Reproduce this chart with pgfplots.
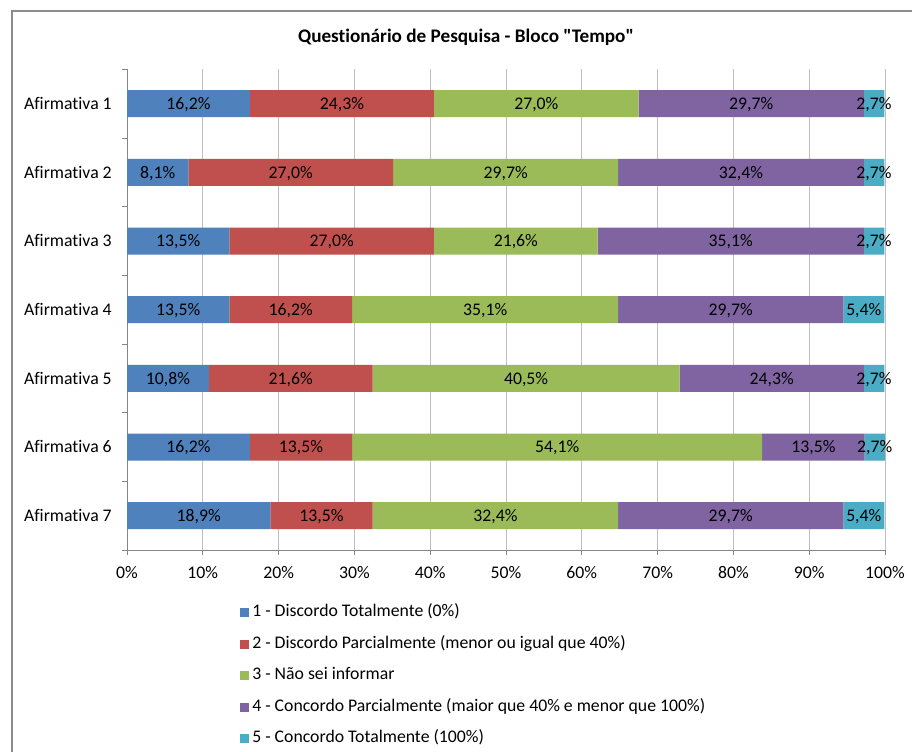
\documentclass[border=0pt]{standalone}
\usepackage{pgfplots}
\usepackage{pgfplotstable}
\pgfplotsset{compat=1.18}
\usepackage{fontspec}
\setmainfont{Carlito}[Ligatures={TeXOff,NoCommon}]

\definecolor{c1}{HTML}{4F81BD}
\definecolor{c2}{HTML}{C0504D}
\definecolor{c3}{HTML}{9BBB59}
\definecolor{c4}{HTML}{8064A2}
\definecolor{c5}{HTML}{4BACC6}
\definecolor{axisgray}{HTML}{868686}
\definecolor{gridgray}{HTML}{BFBFBF}
\definecolor{framegray}{HTML}{8C8C8C}

% share of answers (%) per statement and level
\pgfplotstableread{
y  a    b    c    d    e
1  16.2 24.3 27.0 29.7 2.7
2  8.1  27.0 29.7 32.4 2.7
3  13.5 27.0 21.6 35.1 2.7
4  13.5 16.2 35.1 29.7 5.4
5  10.8 21.6 40.5 24.3 2.7
6  16.2 13.5 54.1 13.5 2.7
7  18.9 13.5 32.4 29.7 5.4
}\data

% centre of each stacked segment, for the value labels
\pgfplotstablecreatecol[create col/expr={\thisrow{a}/2}]{ma}{\data}
\pgfplotstablecreatecol[create col/expr={\thisrow{a}+\thisrow{b}/2}]{mb}{\data}
\pgfplotstablecreatecol[create col/expr={\thisrow{a}+\thisrow{b}+\thisrow{c}/2}]{mc}{\data}
\pgfplotstablecreatecol[create col/expr={\thisrow{a}+\thisrow{b}+\thisrow{c}+\thisrow{d}/2}]{md}{\data}
\pgfplotstablecreatecol[create col/expr={\thisrow{a}+\thisrow{b}+\thisrow{c}+\thisrow{d}+\thisrow{e}/2}]{me}{\data}

\newcommand\txt{\fontsize{13.3}{16}\selectfont}

\pgfplotsset{
  frame/.style={
    at={(95.25pt,-412.5pt)}, anchor=south west,
    scale only axis, width=568.5pt, height=360.5pt,
    xmin=0, xmax=100, ymin=0.5, ymax=7.5, y dir=reverse,
    /pgf/number format/assume math mode=true,
  },
  sq/.style={legend image code/.code={
    \fill[##1, draw=none] (0pt,-3.375pt) rectangle (6.75pt,3.375pt);}},
}

\begin{document}
\begin{tikzpicture}
\useasboundingbox (0,0) rectangle (684pt,-563.25pt);
\fill[white] (0,0) rectangle (684pt,-563.25pt);
\draw[framegray, line width=1.5pt] (8.625pt,-564pt) -- (8.625pt,-7.875pt) -- (685pt,-7.875pt);

\node[font=\bfseries\fontsize{14.4}{17}\selectfont, anchor=base] at (349.5pt,-31.5pt)
  {Questionário de Pesquisa - Bloco "Tempo"};

\begin{axis}[
  frame,
  xbar stacked, bar width=20.25pt,
  axis lines*=left,
  axis line style={axisgray, line width=0.75pt},
  tick align=outside,
  major tick length=3.75pt, minor tick length=3.75pt,
  xtick={0,10,...,100},
  xticklabel={\pgfmathprintnumber{\tick}\%},
  xticklabel style={anchor=base, inner sep=0pt, yshift=-17.5pt},
  ytick={1,...,7},
  yticklabels={Afirmativa 1,Afirmativa 2,Afirmativa 3,Afirmativa 4,Afirmativa 5,Afirmativa 6,Afirmativa 7},
  yticklabel style={anchor=base east, inner sep=0pt, xshift=-7.5pt, yshift=-4.3pt},
  minor ytick={0.5,1.5,...,7.5},
  major y tick style={draw=none},
  minor y tick style={draw=axisgray, line width=0.75pt},
  major x tick style={draw=axisgray, line width=0.75pt},
  xmajorgrids,
  major grid style={gridgray, line width=0.75pt},
  tick label style={font=\txt},
  legend style={
    at={(rel axis cs:0.1434,-0.108)}, anchor=north west,
    draw=none, fill=none, font=\txt,
    row sep=11.6pt, column sep=2.5pt,
    nodes={inner sep=0pt, text height=9pt, text depth=3pt},
  },
  legend cell align=left,
]
\addplot[fill=c1, draw=none, sq] table[x=a, y=y] {\data};
\addplot[fill=c2, draw=none, sq] table[x=b, y=y] {\data};
\addplot[fill=c3, draw=none, sq] table[x=c, y=y] {\data};
\addplot[fill=c4, draw=none, sq] table[x=d, y=y] {\data};
\addplot[fill=c5, draw=none, sq] table[x=e, y=y] {\data};
\legend{1 - Discordo Totalmente (0\%),
        2 - Discordo Parcialmente (menor ou igual que 40\%),
        3 - Não sei informar,
        4 - Concordo Parcialmente (maior que 40\% e menor que 100\%),
        5 - Concordo Totalmente (100\%)}
\end{axis}

\begin{axis}[
  frame, hide axis, clip=false,
  nodes near coords={\pgfmathprintnumber[fixed, fixed zerofill, precision=1, use comma, assume math mode=true]{\pgfplotspointmeta}\%},
  every node near coord/.append style={font=\txt, text=black, anchor=base, inner sep=0pt, yshift=-4.3pt},
  point meta=explicit,
]
\addplot[draw=none, mark=none] table[x=ma, y=y, meta=a] {\data};
\addplot[draw=none, mark=none] table[x=mb, y=y, meta=b] {\data};
\addplot[draw=none, mark=none] table[x=mc, y=y, meta=c] {\data};
\addplot[draw=none, mark=none] table[x=md, y=y, meta=d] {\data};
\addplot[draw=none, mark=none] table[x=me, y=y, meta=e] {\data};
\end{axis}
\end{tikzpicture}
\end{document}
